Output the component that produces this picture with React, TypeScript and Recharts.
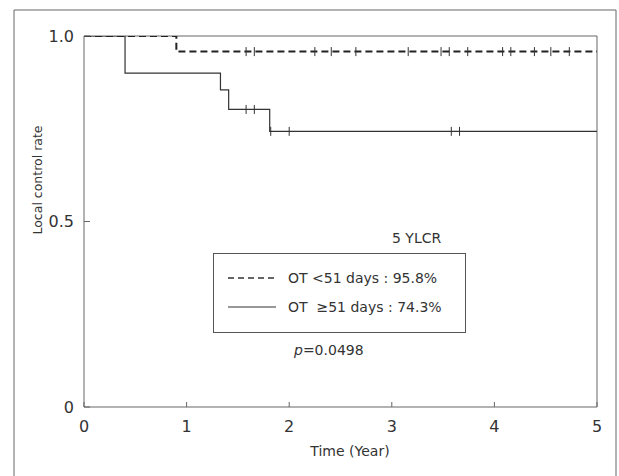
import React from "react";
import {
  ComposedChart,
  Line,
  Scatter,
  XAxis,
  YAxis,
  ReferenceLine,
} from "recharts";

// OT < 51 days (dashed)
const shortTimes = [0, 0.9, 5];
const shortRate = [1, 0.958, 0.958];
const shortCensored = [1.58, 1.66, 2.25, 2.41, 2.65, 3.16, 3.48, 3.56, 3.74, 4.08, 4.16, 4.39, 4.55, 4.73];

// OT >= 51 days (solid)
const longTimes = [0, 0.4, 1.33, 1.41, 1.81, 5];
const longRate = [1, 0.9, 0.855, 0.802, 0.743, 0.743];
const longCensored = [1.58, 1.66, 1.82, 2.0, 3.58, 3.66];

const xTicks = [0, 1, 2, 3, 4, 5];
const yTicks = [0, 0.5, 1];

const FONT = "'DejaVu Sans', sans-serif";
const INK = "#333";

// rate at time t on a step curve
function rateAt(times: number[], rates: number[], t: number) {
  let r = rates[0];
  for (let i = 0; i < times.length; i++) if (times[i] <= t) r = rates[i];
  return r;
}

const shortData = shortTimes.map((t, i) => ({ t, s: shortRate[i] }));
const longData = longTimes.map((t, i) => ({ t, s: longRate[i] }));
const shortMarks = shortCensored.map((t) => ({ t, s: rateAt(shortTimes, shortRate, t) }));
const longMarks = longCensored.map((t) => ({ t, s: rateAt(longTimes, longRate, t) }));

const CensorTick = (props: any) => {
  const { cx, cy } = props;
  return <line x1={cx} x2={cx} y1={cy - 4.5} y2={cy + 4.5} stroke={INK} strokeWidth={1} />;
};

export default function App() {
  return (
    <div style={{ position: "absolute", left: 0, top: 0, width: 619, height: 476, background: "#fff", overflow: "hidden" }}>
      <ComposedChart
        width={619}
        height={476}
        margin={{ top: 36, right: 22, left: 0, bottom: 0 }}
        style={{ fontFamily: FONT }}
      >
        <XAxis
          type="number"
          dataKey="t"
          domain={[0, 5]}
          ticks={xTicks}
          height={69}
          tickSize={-5}
          tickMargin={19}
          stroke="#666"
          tick={{ fill: INK, fontSize: 16 }}
          allowDataOverflow
        />
        <YAxis
          type="number"
          dataKey="s"
          domain={[0, 1]}
          ticks={yTicks}
          width={84}
          tickSize={-6}
          tickMargin={16}
          stroke="#666"
          tick={{ fill: INK, fontSize: 16 }}
          tickFormatter={(v: number) => (v === 0 ? "0" : v.toFixed(1))}
          allowDataOverflow
        />
        <ReferenceLine y={1} stroke="#666" />
        <ReferenceLine x={5} stroke="#666" />
        <Line
          data={longData}
          dataKey="s"
          type="stepAfter"
          stroke={INK}
          strokeWidth={1.2}
          dot={false}
          isAnimationActive={false}
        />
        <Line
          data={shortData}
          dataKey="s"
          type="stepAfter"
          stroke="#222"
          strokeWidth={2}
          strokeDasharray="7 4"
          dot={false}
          isAnimationActive={false}
        />
        <Scatter data={longMarks} dataKey="s" shape={CensorTick} isAnimationActive={false} />
        <Scatter data={shortMarks} dataKey="s" shape={CensorTick} isAnimationActive={false} />
      </ComposedChart>

      <svg
        width={619}
        height={476}
        style={{ position: "absolute", left: 0, top: 0, pointerEvents: "none", fontFamily: FONT }}
      >
        <path d="M14,476 V10 H616 V476" fill="none" stroke="#666" strokeWidth={1} />
        <text x={37} y={180} transform="rotate(-90 37 180)" textAnchor="middle" dominantBaseline="central" fontSize={12.5} fill={INK}>
          Local control rate
        </text>
        <text x={350} y={456} textAnchor="middle" fontSize={14} fill={INK}>
          Time (Year)
        </text>
        <text x={392} y={243} fontSize={14} fill={INK}>5 YLCR</text>
        <rect x={213.5} y={253.5} width={252} height={79} fill="#fff" stroke="#555" />
        <line x1={228} x2={276} y1={278} y2={278} stroke={INK} strokeWidth={1.3} strokeDasharray="6 4" />
        <text x={288} y={283} fontSize={14} fill={INK}>OT &lt;51 days : 95.8%</text>
        <line x1={228} x2={276} y1={307} y2={307} stroke={INK} strokeWidth={1.1} />
        <text x={288} y={312} fontSize={14} fill={INK} xmlSpace="preserve">OT  ≥51 days : 74.3%</text>
        <text x={294} y={355} fontSize={14} fill={INK}>
          <tspan fontStyle="italic">p</tspan>=0.0498
        </text>
      </svg>
    </div>
  );
}
